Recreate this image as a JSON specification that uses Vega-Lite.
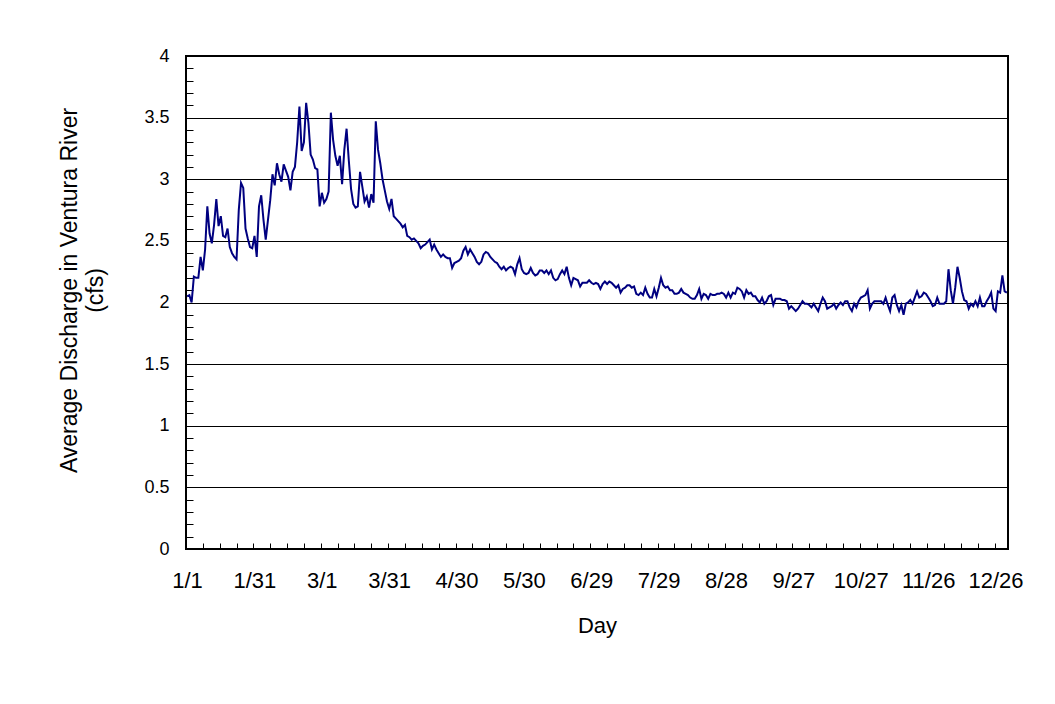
{
  "$schema": "https://vega.github.io/schema/vega-lite/v6.json",
  "description": "Average daily discharge in the Ventura River over a (leap) year",
  "width": 822,
  "height": 493,
  "autosize": {"type": "none"},
  "padding": {"left": 186, "top": 56, "right": 47, "bottom": 155},
  "background": "white",
  "config": {
    "font": "Liberation Sans",
    "view": {"stroke": "black", "strokeWidth": 2}
  },
  "data": {
    "values": [
      {"day":1,"cfs":2.05},{"day":2,"cfs":2.06},{"day":3,"cfs":2.00},{"day":4,"cfs":2.21},{"day":5,"cfs":2.20},
      {"day":6,"cfs":2.20},{"day":7,"cfs":2.37},{"day":8,"cfs":2.26},{"day":9,"cfs":2.43},{"day":10,"cfs":2.78},
      {"day":11,"cfs":2.56},{"day":12,"cfs":2.48},{"day":13,"cfs":2.63},{"day":14,"cfs":2.84},{"day":15,"cfs":2.62},
      {"day":16,"cfs":2.70},{"day":17,"cfs":2.54},{"day":18,"cfs":2.53},{"day":19,"cfs":2.60},{"day":20,"cfs":2.45},
      {"day":21,"cfs":2.40},{"day":22,"cfs":2.37},{"day":23,"cfs":2.35},{"day":24,"cfs":2.75},{"day":25,"cfs":2.97},
      {"day":26,"cfs":2.93},{"day":27,"cfs":2.60},{"day":28,"cfs":2.52},{"day":29,"cfs":2.45},{"day":30,"cfs":2.44},
      {"day":31,"cfs":2.54},{"day":32,"cfs":2.37},{"day":33,"cfs":2.78},{"day":34,"cfs":2.87},{"day":35,"cfs":2.67},
      {"day":36,"cfs":2.51},{"day":37,"cfs":2.67},{"day":38,"cfs":2.83},{"day":39,"cfs":3.04},{"day":40,"cfs":2.95},
      {"day":41,"cfs":3.13},{"day":42,"cfs":3.04},{"day":43,"cfs":2.98},{"day":44,"cfs":3.12},{"day":45,"cfs":3.07},
      {"day":46,"cfs":3.02},{"day":47,"cfs":2.91},{"day":48,"cfs":3.06},{"day":49,"cfs":3.10},{"day":50,"cfs":3.30},
      {"day":51,"cfs":3.59},{"day":52,"cfs":3.23},{"day":53,"cfs":3.30},{"day":54,"cfs":3.62},{"day":55,"cfs":3.46},
      {"day":56,"cfs":3.20},{"day":57,"cfs":3.16},{"day":58,"cfs":3.09},{"day":59,"cfs":3.08},{"day":60,"cfs":2.78},
      {"day":61,"cfs":2.89},{"day":62,"cfs":2.81},{"day":63,"cfs":2.84},{"day":64,"cfs":2.90},{"day":65,"cfs":3.54},
      {"day":66,"cfs":3.32},{"day":67,"cfs":3.19},{"day":68,"cfs":3.11},{"day":69,"cfs":3.19},{"day":70,"cfs":2.96},
      {"day":71,"cfs":3.24},{"day":72,"cfs":3.41},{"day":73,"cfs":3.15},{"day":74,"cfs":2.92},{"day":75,"cfs":2.80},
      {"day":76,"cfs":2.77},{"day":77,"cfs":2.78},{"day":78,"cfs":3.06},{"day":79,"cfs":2.94},{"day":80,"cfs":2.82},
      {"day":81,"cfs":2.86},{"day":82,"cfs":2.77},{"day":83,"cfs":2.88},{"day":84,"cfs":2.81},{"day":85,"cfs":3.47},
      {"day":86,"cfs":3.24},{"day":87,"cfs":3.13},{"day":88,"cfs":3.00},{"day":89,"cfs":2.91},{"day":90,"cfs":2.82},
      {"day":91,"cfs":2.76},{"day":92,"cfs":2.84},{"day":93,"cfs":2.70},{"day":94,"cfs":2.68},{"day":95,"cfs":2.66},
      {"day":96,"cfs":2.64},{"day":97,"cfs":2.61},{"day":98,"cfs":2.63},{"day":99,"cfs":2.54},{"day":100,"cfs":2.53},
      {"day":101,"cfs":2.51},{"day":102,"cfs":2.52},{"day":103,"cfs":2.50},{"day":104,"cfs":2.48},{"day":105,"cfs":2.44},
      {"day":106,"cfs":2.46},{"day":107,"cfs":2.47},{"day":108,"cfs":2.49},{"day":109,"cfs":2.51},{"day":110,"cfs":2.43},
      {"day":111,"cfs":2.47},{"day":112,"cfs":2.43},{"day":113,"cfs":2.40},{"day":114,"cfs":2.37},{"day":115,"cfs":2.39},
      {"day":116,"cfs":2.37},{"day":117,"cfs":2.36},{"day":118,"cfs":2.36},{"day":119,"cfs":2.28},{"day":120,"cfs":2.32},
      {"day":121,"cfs":2.33},{"day":122,"cfs":2.34},{"day":123,"cfs":2.36},{"day":124,"cfs":2.42},{"day":125,"cfs":2.45},
      {"day":126,"cfs":2.39},{"day":127,"cfs":2.43},{"day":128,"cfs":2.40},{"day":129,"cfs":2.37},{"day":130,"cfs":2.33},
      {"day":131,"cfs":2.31},{"day":132,"cfs":2.33},{"day":133,"cfs":2.39},{"day":134,"cfs":2.41},{"day":135,"cfs":2.40},
      {"day":136,"cfs":2.37},{"day":137,"cfs":2.35},{"day":138,"cfs":2.33},{"day":139,"cfs":2.32},{"day":140,"cfs":2.29},
      {"day":141,"cfs":2.27},{"day":142,"cfs":2.29},{"day":143,"cfs":2.26},{"day":144,"cfs":2.28},{"day":145,"cfs":2.29},
      {"day":146,"cfs":2.28},{"day":147,"cfs":2.23},{"day":148,"cfs":2.31},{"day":149,"cfs":2.36},{"day":150,"cfs":2.27},
      {"day":151,"cfs":2.24},{"day":152,"cfs":2.23},{"day":153,"cfs":2.24},{"day":154,"cfs":2.28},{"day":155,"cfs":2.24},
      {"day":156,"cfs":2.22},{"day":157,"cfs":2.23},{"day":158,"cfs":2.26},{"day":159,"cfs":2.26},{"day":160,"cfs":2.24},
      {"day":161,"cfs":2.26},{"day":162,"cfs":2.23},{"day":163,"cfs":2.26},{"day":164,"cfs":2.20},{"day":165,"cfs":2.18},
      {"day":166,"cfs":2.19},{"day":167,"cfs":2.23},{"day":168,"cfs":2.26},{"day":169,"cfs":2.23},{"day":170,"cfs":2.29},
      {"day":171,"cfs":2.20},{"day":172,"cfs":2.14},{"day":173,"cfs":2.20},{"day":174,"cfs":2.19},{"day":175,"cfs":2.18},
      {"day":176,"cfs":2.13},{"day":177,"cfs":2.16},{"day":178,"cfs":2.16},{"day":179,"cfs":2.16},{"day":180,"cfs":2.18},
      {"day":181,"cfs":2.16},{"day":182,"cfs":2.15},{"day":183,"cfs":2.16},{"day":184,"cfs":2.15},{"day":185,"cfs":2.11},
      {"day":186,"cfs":2.15},{"day":187,"cfs":2.17},{"day":188,"cfs":2.15},{"day":189,"cfs":2.17},{"day":190,"cfs":2.16},
      {"day":191,"cfs":2.14},{"day":192,"cfs":2.12},{"day":193,"cfs":2.14},{"day":194,"cfs":2.08},{"day":195,"cfs":2.11},
      {"day":196,"cfs":2.12},{"day":197,"cfs":2.14},{"day":198,"cfs":2.14},{"day":199,"cfs":2.12},{"day":200,"cfs":2.13},
      {"day":201,"cfs":2.07},{"day":202,"cfs":2.06},{"day":203,"cfs":2.08},{"day":204,"cfs":2.06},{"day":205,"cfs":2.12},
      {"day":206,"cfs":2.07},{"day":207,"cfs":2.04},{"day":208,"cfs":2.04},{"day":209,"cfs":2.11},{"day":210,"cfs":2.05},
      {"day":211,"cfs":2.12},{"day":212,"cfs":2.20},{"day":213,"cfs":2.14},{"day":214,"cfs":2.12},{"day":215,"cfs":2.13},
      {"day":216,"cfs":2.10},{"day":217,"cfs":2.10},{"day":218,"cfs":2.07},{"day":219,"cfs":2.07},{"day":220,"cfs":2.08},
      {"day":221,"cfs":2.11},{"day":222,"cfs":2.08},{"day":223,"cfs":2.07},{"day":224,"cfs":2.06},{"day":225,"cfs":2.04},
      {"day":226,"cfs":2.03},{"day":227,"cfs":2.03},{"day":228,"cfs":2.06},{"day":229,"cfs":2.11},{"day":230,"cfs":2.03},
      {"day":231,"cfs":2.07},{"day":232,"cfs":2.06},{"day":233,"cfs":2.03},{"day":234,"cfs":2.07},{"day":235,"cfs":2.06},
      {"day":236,"cfs":2.06},{"day":237,"cfs":2.07},{"day":238,"cfs":2.07},{"day":239,"cfs":2.08},{"day":240,"cfs":2.07},
      {"day":241,"cfs":2.04},{"day":242,"cfs":2.08},{"day":243,"cfs":2.04},{"day":244,"cfs":2.08},{"day":245,"cfs":2.07},
      {"day":246,"cfs":2.12},{"day":247,"cfs":2.11},{"day":248,"cfs":2.09},{"day":249,"cfs":2.04},{"day":250,"cfs":2.10},
      {"day":251,"cfs":2.07},{"day":252,"cfs":2.08},{"day":253,"cfs":2.05},{"day":254,"cfs":2.05},{"day":255,"cfs":2.02},
      {"day":256,"cfs":2.00},{"day":257,"cfs":2.04},{"day":258,"cfs":1.99},{"day":259,"cfs":2.01},{"day":260,"cfs":2.05},
      {"day":261,"cfs":2.06},{"day":262,"cfs":1.98},{"day":263,"cfs":2.03},{"day":264,"cfs":2.03},{"day":265,"cfs":2.03},
      {"day":266,"cfs":2.02},{"day":267,"cfs":2.02},{"day":268,"cfs":2.01},{"day":269,"cfs":1.95},{"day":270,"cfs":1.97},
      {"day":271,"cfs":1.95},{"day":272,"cfs":1.93},{"day":273,"cfs":1.95},{"day":274,"cfs":1.98},{"day":275,"cfs":2.01},
      {"day":276,"cfs":1.99},{"day":277,"cfs":1.99},{"day":278,"cfs":1.98},{"day":279,"cfs":1.96},{"day":280,"cfs":1.99},
      {"day":281,"cfs":1.96},{"day":282,"cfs":1.93},{"day":283,"cfs":1.99},{"day":284,"cfs":2.04},{"day":285,"cfs":2.01},
      {"day":286,"cfs":1.95},{"day":287,"cfs":1.96},{"day":288,"cfs":1.97},{"day":289,"cfs":1.99},{"day":290,"cfs":1.95},
      {"day":291,"cfs":1.98},{"day":292,"cfs":2.00},{"day":293,"cfs":1.98},{"day":294,"cfs":2.01},{"day":295,"cfs":2.01},
      {"day":296,"cfs":1.96},{"day":297,"cfs":1.93},{"day":298,"cfs":1.99},{"day":299,"cfs":1.96},{"day":300,"cfs":2.01},
      {"day":301,"cfs":2.04},{"day":302,"cfs":2.05},{"day":303,"cfs":2.06},{"day":304,"cfs":2.10},{"day":305,"cfs":1.95},
      {"day":306,"cfs":1.99},{"day":307,"cfs":2.01},{"day":308,"cfs":2.01},{"day":309,"cfs":2.01},{"day":310,"cfs":2.01},
      {"day":311,"cfs":1.99},{"day":312,"cfs":2.04},{"day":313,"cfs":1.98},{"day":314,"cfs":1.93},{"day":315,"cfs":2.04},
      {"day":316,"cfs":2.06},{"day":317,"cfs":1.98},{"day":318,"cfs":1.93},{"day":319,"cfs":1.98},{"day":320,"cfs":1.90},
      {"day":321,"cfs":1.99},{"day":322,"cfs":2.00},{"day":323,"cfs":2.02},{"day":324,"cfs":1.99},{"day":325,"cfs":2.04},
      {"day":326,"cfs":2.09},{"day":327,"cfs":2.04},{"day":328,"cfs":2.05},{"day":329,"cfs":2.08},{"day":330,"cfs":2.07},
      {"day":331,"cfs":2.04},{"day":332,"cfs":2.01},{"day":333,"cfs":1.97},{"day":334,"cfs":1.98},{"day":335,"cfs":2.04},
      {"day":336,"cfs":1.99},{"day":337,"cfs":1.99},{"day":338,"cfs":1.99},{"day":339,"cfs":2.01},{"day":340,"cfs":2.27},
      {"day":341,"cfs":2.10},{"day":342,"cfs":1.99},{"day":343,"cfs":2.12},{"day":344,"cfs":2.29},{"day":345,"cfs":2.20},
      {"day":346,"cfs":2.09},{"day":347,"cfs":2.02},{"day":348,"cfs":2.01},{"day":349,"cfs":1.95},{"day":350,"cfs":1.99},
      {"day":351,"cfs":1.97},{"day":352,"cfs":2.01},{"day":353,"cfs":1.97},{"day":354,"cfs":2.04},{"day":355,"cfs":1.97},
      {"day":356,"cfs":1.97},{"day":357,"cfs":2.01},{"day":358,"cfs":2.04},{"day":359,"cfs":2.08},{"day":360,"cfs":1.95},
      {"day":361,"cfs":1.93},{"day":362,"cfs":2.09},{"day":363,"cfs":2.08},{"day":364,"cfs":2.22},{"day":365,"cfs":2.09},
      {"day":366,"cfs":2.08}
    ]
  },
  "mark": {"type": "line", "color": "#000080", "strokeWidth": 2},
  "encoding": {
    "x": {
      "field": "day",
      "type": "quantitative",
      "scale": {"domain": [0.5, 366.5], "nice": false, "zero": false},
      "axis": {
        "title": "Day",
        "values": [0.5, 8, 15.5, 23, 30.5, 38, 45.5, 53, 60.5, 68, 75.5, 83, 90.5, 98, 105.5, 113, 120.5, 128, 135.5, 143, 150.5, 158, 165.5, 173, 180.5, 188, 195.5, 203, 210.5, 218, 225.5, 233, 240.5, 248, 255.5, 263, 270.5, 278, 285.5, 293, 300.5, 308, 315.5, 323, 330.5, 338, 345.5, 353, 360.5],
        "labelExpr": "(datum.value - 0.5) % 30 == 0 ? timeFormat(datetime(2000, 0, datum.value + 0.5), '%-m/%-d') : ''",
        "labelOverlap": false,
        "labelFlush": false,
        "labelFontSize": 22,
        "labelColor": "black",
        "labelPadding": 27,
        "labelOffset": 1,
        "tickSize": -6,
        "tickColor": "black",
        "tickWidth": 1,
        "domain": false,
        "grid": false,
        "titleFontSize": 22,
        "titleFontWeight": "normal",
        "titleColor": "black",
        "titleBaseline": "top",
        "titleY": 66
      }
    },
    "y": {
      "field": "cfs",
      "type": "quantitative",
      "scale": {"domain": [0, 4], "nice": false, "zero": true},
      "axis": {
        "title": ["Average Discharge in Ventura River", "(cfs)"],
        "values": [0, 0.1, 0.2, 0.3, 0.4, 0.5, 0.6, 0.7, 0.8, 0.9, 1, 1.1, 1.2, 1.3, 1.4, 1.5, 1.6, 1.7, 1.8, 1.9, 2, 2.1, 2.2, 2.3, 2.4, 2.5, 2.6, 2.7, 2.8, 2.9, 3, 3.1, 3.2, 3.3, 3.4, 3.5, 3.6, 3.7, 3.8, 3.9, 4],
        "labelExpr": "abs(datum.value * 2 - round(datum.value * 2)) < 0.001 ? '' + datum.value : ''",
        "labelOverlap": false,
        "labelFlush": false,
        "labelFontSize": 18,
        "labelColor": "black",
        "labelPadding": 24,
        "tickSize": -7,
        "tickColor": "black",
        "tickWidth": 1,
        "domain": false,
        "grid": true,
        "gridColor": {
          "condition": {"test": "abs(datum.value * 2 - round(datum.value * 2)) < 0.001", "value": "black"},
          "value": "transparent"
        },
        "gridWidth": 1,
        "gridOpacity": 1,
        "titleFontSize": 23,
        "titleFontWeight": "normal",
        "titleColor": "black",
        "titleLineHeight": 26,
        "titleBaseline": "middle",
        "titleX": -117,
        "titleY": 234
      }
    }
  }
}
